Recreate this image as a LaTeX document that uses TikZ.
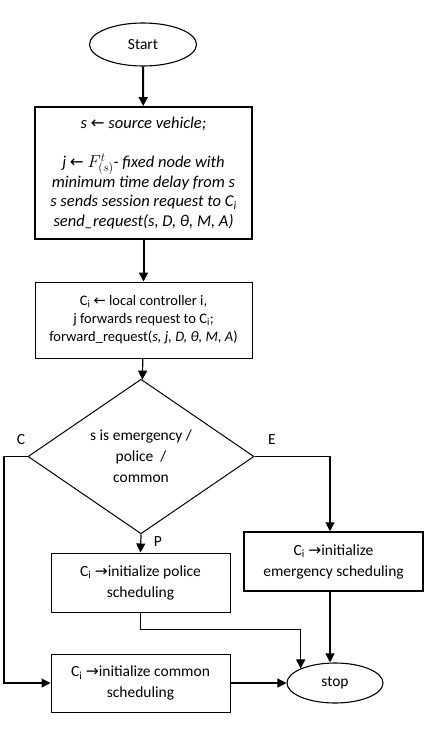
\documentclass[tikz,border=0pt]{standalone}
\usepackage{fontspec}
\setmainfont{Carlito}
\newfontfamily\arrowfont{DejaVu Sans}
\usetikzlibrary{arrows.meta,shapes.geometric}

\newcommand{\lar}{{\arrowfont\char"2190}}
\newcommand{\rar}{{\arrowfont\char"2192}}

\begin{document}
\begin{tikzpicture}[x=1pt,y=1pt,
    every node/.style={font=\fontsize{15.5}{21}\selectfont, align=center},
    blk/.style={draw, rectangle, line width=1pt, inner sep=0pt},
    term/.style={draw, ellipse, line width=1.1pt, inner sep=0pt},
    flow/.style={-{Triangle[length=9pt,width=9pt]}, line width=1.2pt}]
  \useasboundingbox (0,0) rectangle (429,-735);
  % terminals
  \node[term, minimum width=107pt, minimum height=43pt] (start) at (143,-44.5) {Start};
  \node[term, minimum width=96pt, minimum height=40pt] (stop) at (335,-683) {stop};
  % steps
  \node[blk, line width=1.8pt, minimum width=217pt, minimum height=132pt,
    font=\fontsize{16.5}{19.5}\selectfont\itshape] (src) at (143.5,-173)
    {s \lar\ source vehicle;\\[19.5pt]
     j \lar\ $F^{t}_{(s)}$- fixed node with\\
     minimum time delay from s\\
     s sends session request to C\textsubscript{i}\\
     send\_request(s, D, θ, M, A)};
  \node[blk, minimum width=217pt, minimum height=76pt,
    font=\fontsize{14.5}{18}\selectfont] (fwd) at (143.5,-320)
    {C\textsubscript{i} \lar\ local controller i,\\
     j forwards request to C\textsubscript{i};\\
     forward\_request(\textit{s, j, D, θ, M, A})};
  \node[draw, diamond, line width=1pt, inner sep=0pt, minimum width=226pt,
    minimum height=127pt] (dec) at (141,-456.5)
    {s is emergency /\\ police~~/\\ common};
  \node[blk, minimum width=179pt, minimum height=59pt] (pol) at (140.5,-582.5)
    {C\textsubscript{i} \rar initialize police\\ scheduling};
  \node[blk, line width=1.5pt, minimum width=179pt, minimum height=59pt] (emg) at (333.5,-561.5)
    {C\textsubscript{i} \rar initialize\\ emergency scheduling};
  \node[blk, minimum width=179pt, minimum height=58pt] (com) at (140.5,-683)
    {C\textsubscript{i} \rar initialize common\\ scheduling};
  % branch labels
  \node (lblC) at (21,-440) {C};
  \node (lblE) at (272,-440) {E};
  \node (lblP) at (158,-542) {P};
  % connectors
  \draw[flow, line width=2pt] (start) -- (src);
  \draw[flow, line width=2pt] (src) -- (fwd);
  \draw[flow] (fwd) -- (dec);
  \draw[flow] (dec.south) -- (pol.north);
  \draw[flow] (dec.east) -| ([xshift=-3.5pt]emg.north);
  \draw[flow] (dec.west) -- (4,-456.5) |- (com.west);
  \draw[flow] (pol.south) -- ++(0,-17) -| (stop.north west);
  \draw[flow] ([xshift=-3.5pt]emg.south) -- ([xshift=-5pt]stop.north);
  \draw[flow] (com.east) -- (stop.west);
\end{tikzpicture}
\end{document}
